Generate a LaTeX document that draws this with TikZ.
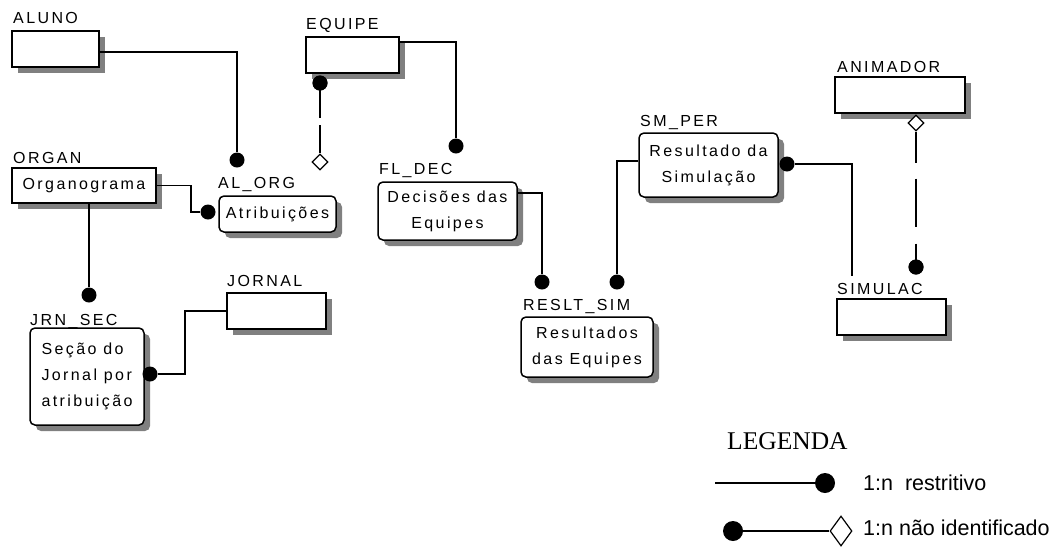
\documentclass[tikz,border=0pt]{standalone}
\usepackage{fontspec}
\setmainfont{Liberation Sans}
\newfontfamily\erw[LetterSpace=15]{Liberation Sans}
\newfontfamily\legserif{Liberation Serif}
\usetikzlibrary{shapes.geometric,shadows}
\begin{document}
\begin{tikzpicture}[x=1pt,y=1pt,
  ent/.style={draw, line width=1.5pt, fill=white, inner sep=0pt,
    font=\erw\fontsize{16}{26}\selectfont, align=center,
    drop shadow={shadow xshift=6pt, shadow yshift=-6pt, fill=black!50, opacity=1}},
  dep/.style={ent, rounded corners=5pt},
  lbl/.style={font=\erw\fontsize{16}{18}\selectfont, anchor=base west, inner sep=0pt},
  rel/.style={line width=1.5pt},
  dotc/.style={circle, fill=black, inner sep=0pt, minimum size=15pt},
  dia/.style={diamond, draw, fill=white, line width=1.2pt, inner sep=0pt,
    minimum width=16pt, minimum height=16pt},
  legtxt/.style={anchor=base west, inner sep=0pt, font=\fontsize{21.5}{25}\selectfont}
]
\useasboundingbox (0,0) rectangle (1064,-550);

% ---------- entities ----------
\node[ent, minimum width=87pt, minimum height=36pt] (aluno) at (55.5,-49) {};
\node[lbl] (alunoL) at (13,-23.5) {ALUNO};

\node[ent, minimum width=93pt, minimum height=36pt] (equipe) at (352.5,-55) {};
\node[lbl] (equipeL) at (306,-29) {EQUIPE};

\node[ent, minimum width=144pt, minimum height=35pt] (organ) at (84,-185.5) {Organograma};
\node[lbl] (organL) at (13,-163) {ORGAN};

\node[dep, minimum width=117pt, minimum height=36pt] (alorg) at (277.5,-214) {Atribuições};
\node[lbl] (alorgL) at (218,-188) {AL\_ORG};

\node[dep, minimum width=114pt, minimum height=97pt, align=left] (jrnsec) at (87,-376.5) {Seção do\\Jornal por\\atribuição};
\node[lbl] (jrnsecL) at (30,-325) {JRN\_SEC};

\node[ent, minimum width=99pt, minimum height=36pt] (jornal) at (276.5,-311) {};
\node[lbl] (jornalL) at (227,-286) {JORNAL};

\node[dep, minimum width=139pt, minimum height=58pt] (fldec) at (447.5,-211) {Decisões das\\Equipes};
\node[lbl] (fldecL) at (379,-174) {FL\_DEC};

\node[dep, minimum width=132pt, minimum height=60pt] (reslt) at (587,-347) {Resultados\\das Equipes};
\node[lbl] (resltL) at (523,-310) {RESLT\_SIM};

\node[dep, minimum width=139pt, minimum height=64pt] (smper) at (708.5,-165) {Resultado da\\Simulação};
\node[lbl] (smperL) at (640,-126) {SM\_PER};

\node[ent, minimum width=130pt, minimum height=36pt] (anim) at (900,-95) {};
\node[lbl] (animL) at (837,-72) {ANIMADOR};

\node[ent, minimum width=109pt, minimum height=36pt] (simul) at (891.5,-317) {};
\node[lbl] (simulL) at (837,-294) {SIMULAC};

% ---------- relationship ends ----------
\node[dotc] (d1) at (237,-160) {};
\node[dotc] (d2) at (320,-83) {};
\node[dia] (dm2) at (320,-162) {};
\node[dotc] (d3) at (208,-212) {};
\node[dotc] (d4) at (89,-295) {};
\node[dotc] (d5) at (150,-374) {};
\node[dotc] (d6) at (456,-146) {};
\node[dotc] (d7) at (542,-282) {};
\node[dotc] (d8) at (617,-282) {};
\node[dotc] (d9) at (787,-164) {};
\coordinate (c9) at (852,-276);
\node[dia] (dm10) at (916,-123) {};
\node[dotc] (d10) at (916,-267) {};

% ---------- connectors ----------
\draw[rel] ([yshift=-3pt]aluno.east) -| (d1);
\draw[rel, dash pattern=on 35pt off 7pt on 100pt] (d2.center) -- (dm2.north);
\draw[rel] (organ.east) -- ++(34,0) |- (d3);
\draw[rel] (organ.south -| d4) -- (d4);
\draw[rel] (d5) -- ++(35,0) |- (jornal.west);
\draw[rel] ([yshift=13pt]equipe.east) -| (d6);
\draw[rel] ([yshift=18pt]fldec.east) -| (d7);
\draw[rel] ([yshift=4pt]smper.west) -| (d8);
\draw[rel] (d9) -| (c9);
\draw[rel, dash pattern=on 31pt off 16pt on 48pt off 17pt on 100pt] (dm10.south) -- (d10.center);
\node[dotc] at (d2) {};
\node[dotc] at (d10) {};

% ---------- legend ----------
\node[anchor=base west, inner sep=0pt, font=\legserif\fontsize{25.5}{30}\selectfont] (leg) at (727,-449) {LEGENDA};
\coordinate (l1a) at (715,-483);
\node[dotc, minimum size=20pt] (l1d) at (825,-483) {};
\draw[line width=1.2pt] (l1a) -- (l1d);
\node[legtxt] (l1t) at (863,-490) {1:n\ \ restritivo};
\node[dotc, minimum size=20pt] (l2d) at (733,-531) {};
\node[dia, minimum width=22pt, minimum height=30pt] (l2m) at (841,-531) {};
\draw[line width=1.2pt] (l2d) -- (l2m.west);
\node[legtxt] (l2t) at (863,-535) {1:n não identificado};
\end{tikzpicture}
\end{document}
